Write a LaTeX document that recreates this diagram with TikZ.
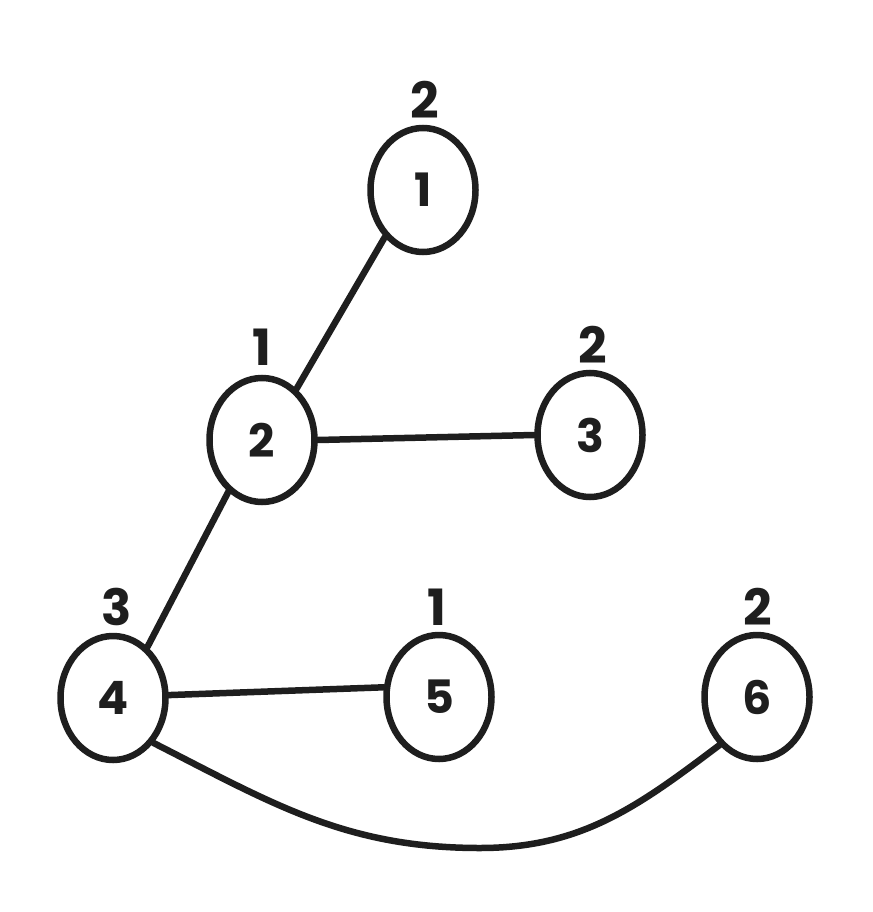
\documentclass[tikz,border=0pt]{standalone}
\usepackage{fontspec}
\setmainfont{Poppins}
\usetikzlibrary{shapes.geometric}
\definecolor{ink}{HTML}{1E1E1E}
\tikzset{
  vert/.style={ellipse, draw=ink, line width=6.5pt, minimum width=105pt, minimum height=124pt, inner sep=0pt, text=ink, font=\fontsize{46}{48}\selectfont\bfseries},
  deg/.style={text=ink, inner sep=0pt, font=\fontsize{50}{52}\selectfont\bfseries},
  edge/.style={draw=ink, line width=6.5pt, line cap=round}
}
\begin{document}
\begin{tikzpicture}[x=1pt,y=-1pt]
\useasboundingbox (0,0) rectangle (872,912);
\node[vert] (n1) at (423,190) {1};
\node[vert] (n2) at (262,440) {2};
\node[vert] (n3) at (590,435) {3};
\node[vert] (n4) at (113,698) {4};
\node[vert] (n5) at (439,697) {5};
\node[vert] (n6) at (757,697) {6};
\node[deg] (d1) at (425,100) {2};
\node[deg] (d2) at (262,347) {1};
\node[deg] (d3) at (593,345) {2};
\node[deg] (d4) at (117,607) {3};
\node[deg] (d5) at (437,607) {1};
\node[deg] (d6) at (758,607) {2};
\coordinate (bot) at (480,848);
\draw[edge] (n1.231) -- (n2.56);
\draw[edge] (n2.0) -- (n3.180);
\draw[edge] (n2.237) -- (n4.56);
\draw[edge] (n4.3) -- (n5.170);
\draw[edge] (n4.312) to[out=-27,in=180] (bot) to[out=0,in=-143] (n6.232);
\end{tikzpicture}
\end{document}
